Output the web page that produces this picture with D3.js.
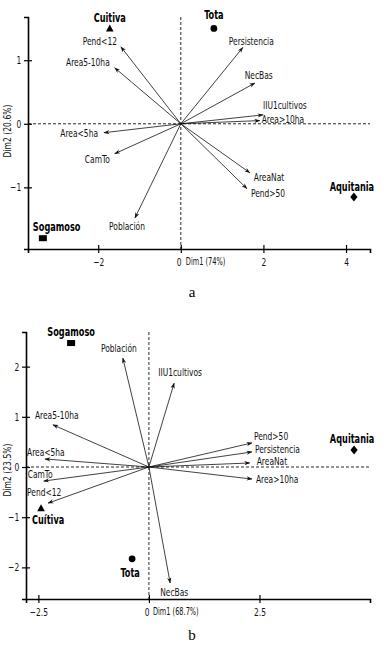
<!DOCTYPE html>
<html>
<head>
<meta charset="utf-8">
<script src="https://cdn.jsdelivr.net/npm/d3@7"></script>
<style>
  body { margin: 0; background: #fff; }
  svg text { font-family: "Liberation Sans Narrow", "DejaVu Sans Condensed", "Roboto", sans-serif; }
</style>
</head>
<body>
<div id="chart"></div>
<script>
// panel a: sites and variables (Dim1 74%, Dim2 20.6%)
const sitesA = ['Cuitiva', 'Tota', 'Aquitania', 'Sogamoso']
const siteXA = [-1.72, 0.80, 4.19, -3.34]
const siteYA = [1.50, 1.50, -1.15, -1.80]
const varsA = ['Pend<12', 'Area5-10ha', 'Area<5ha', 'CamTo', 'Población', 'Persistencia', 'NecBas', 'IIU1cultivos', 'Area>10ha', 'AreaNat', 'Pend>50']
const varXA = [-1.45, -1.60, -1.86, -1.60, -1.11, 1.50, 1.79, 1.99, 1.91, 1.67, 1.60]
const varYA = [1.21, 0.88, -0.14, -0.47, -1.48, 1.20, 0.64, 0.14, 0.05, -0.77, -1.02]
const xTicksA = [-2, 0, 2, 4]
const yTicksA = [-1, 0, 1]

// panel b (Dim1 68.7%, Dim2 23.5%)
const sitesB = ['Sogamoso', 'Cuítiva', 'Tota', 'Aquitania']
const siteXB = [-1.76, -2.44, -0.38, 4.64]
const siteYB = [2.47, -0.82, -1.83, 0.34]
const varsB = ['Población', 'IIU1cultivos', 'Area5-10ha', 'Area<5ha', 'CamTo', 'Pend<12', 'Pend>50', 'Persistencia', 'AreaNat', 'Area>10ha', 'NecBas']
const varXB = [-0.59, 0.57, -2.17, -2.35, -2.38, -2.28, 2.33, 2.33, 2.28, 2.33, 0.48]
const varYB = [2.17, 1.67, 0.84, 0.16, -0.28, -0.72, 0.48, 0.30, 0.08, -0.24, -2.31]
const xTicksB = [-2.5, 0, 2.5]
const yTicksB = [-2, -1, 0, 1, 2]

// layout: label offsets in px [anchor, dx, dy]
const varLabA = [['end', -4, -2], ['end', -5, -2], ['end', -6, 4], ['end', -5, 9], ['middle', -8, 12],
  ['start', -14, -3], ['start', -10, -4], ['start', 0, -6], ['start', 2, 2], ['start', 4, 8], ['start', 4, 8]]
const siteLabA = [['middle', 0, -6], ['middle', 0, -9], ['middle', -2, -6], ['start', -10, -7]]
const varLabB = [['middle', -4, -6], ['middle', 6, -7], ['start', -18, -6], ['start', -18, -3], ['start', -16, -3],
  ['start', -21, -7], ['start', 2, -3], ['start', 3, 1], ['start', 7, 2], ['start', 4, 4], ['start', -10, 13]]
const siteLabB = [['middle', 0, -7], ['start', -9, 16], ['middle', -2, 18], ['middle', -2, -7]]

const symbolOf = {
  Cuitiva: 'tri', 'Cuítiva': 'tri', Tota: 'circle', Aquitania: 'diamond', Sogamoso: 'rect'
}

// reference font is a condensed DIN-like face, squeeze horizontally
const SQ = 0.76
const SQB = 0.7

const svg = d3.select('#chart').append('svg')
  .attr('width', 384)
  .attr('height', 651)

const defs = svg.append('defs')
defs.append('marker')
  .attr('id', 'arr')
  .attr('viewBox', '0 0 10 10')
  .attr('refX', 9).attr('refY', 5)
  .attr('markerWidth', 6).attr('markerHeight', 6)
  .attr('markerUnits', 'userSpaceOnUse')
  .attr('orient', 'auto')
  .append('path')
  .attr('d', 'M0,1.5 L10,5 L0,8.5 L3,5 Z')
  .attr('fill', '#111')

const drawPanel = (p) => {
  const x = d3.scaleLinear().domain(p.xDom).range(p.xRange)
  const y = d3.scaleLinear().domain(p.yDom).range(p.yRange)
  const g = svg.append('g')

  // dashed reference lines
  g.append('line')
    .attr('x1', x(0)).attr('x2', x(0))
    .attr('y1', p.yRange[1]).attr('y2', p.yRange[0])
    .attr('stroke', '#111').attr('stroke-width', 0.9)
    .attr('stroke-dasharray', '3,2')
  g.append('line')
    .attr('x1', p.xRange[0]).attr('x2', p.xRange[1])
    .attr('y1', y(0)).attr('y2', y(0))
    .attr('stroke', '#111').attr('stroke-width', 0.9)
    .attr('stroke-dasharray', '3,2')

  // axes
  const xAxis = g.append('g')
    .attr('transform', `translate(0,${p.yRange[0]})`)
    .call(d3.axisBottom(x).tickValues(p.xTicks).tickSizeOuter(0).tickSize(4).tickPadding(5).tickFormat(d3.format('')))
  const yAxis = g.append('g')
    .attr('transform', `translate(${p.xRange[0]},0)`)
    .call(d3.axisLeft(y).tickValues(p.yTicks).tickSizeOuter(0).tickSize(4).tickPadding(5).tickFormat(d3.format('')))
  xAxis.selectAll('.tick line').attr('y1', -4).attr('stroke-width', 1.2)
  yAxis.selectAll('.tick line').attr('x1', 4).attr('stroke-width', 1.2)
  xAxis.select('.domain').attr('stroke-width', 1.6)
  yAxis.select('.domain').attr('stroke-width', 1.6)
  g.selectAll('.tick text').attr('font-size', 11).attr('fill', '#111')
    .attr('transform', `scale(${SQ},1)`)
    .style('font-family', '"Liberation Sans Narrow", "DejaVu Sans Condensed", sans-serif')
  xAxis.selectAll('.tick text').filter(d => d === 0).attr('dx', -3)

  g.append('text')
    .attr('transform', `translate(${x(0) + p.xLabDx},${p.yRange[0] + 16}) scale(${SQB},1)`)
    .attr('font-size', 10.5).attr('fill', '#111')
    .text(p.xLab)
  g.append('text')
    .attr('transform', `translate(${p.yLabX},${p.yLabY}) rotate(-90) scale(0.85,1)`)
    .attr('text-anchor', 'middle')
    .attr('font-size', 10).attr('fill', '#111')
    .text(p.yLab)

  // variable arrows
  const vars = p.vars.map((name, i) => ({ name, vx: p.varX[i], vy: p.varY[i], lab: p.varLab[i] }))
  g.selectAll('line.arrow')
    .data(vars).enter()
    .append('line')
    .attr('class', 'arrow')
    .attr('x1', x(0)).attr('y1', y(0))
    .attr('x2', d => x(d.vx)).attr('y2', d => y(d.vy))
    .attr('stroke', '#111').attr('stroke-width', 0.8)
    .attr('marker-end', 'url(#arr)')
  g.selectAll('text.var')
    .data(vars).enter()
    .append('text')
    .attr('class', 'var')
    .attr('transform', d => `translate(${x(d.vx) + d.lab[1]},${y(d.vy) + d.lab[2]}) scale(${SQ},1)`)
    .attr('text-anchor', d => d.lab[0])
    .attr('font-size', 11).attr('fill', '#111')
    .text(d => d.name)

  // sites
  const sites = p.sites.map((name, i) => ({ name, sx: p.siteX[i], sy: p.siteY[i], lab: p.siteLab[i] }))
  const sg = g.selectAll('g.site')
    .data(sites).enter()
    .append('g')
    .attr('class', 'site')
    .attr('transform', d => `translate(${x(d.sx)},${y(d.sy)})`)
  sg.each(function (d) {
    const s = d3.select(this)
    const kind = symbolOf[d.name]
    if (kind === 'rect') {
      s.append('rect').attr('x', -4).attr('y', -3).attr('width', 8).attr('height', 6).attr('fill', '#000')
    } else if (kind === 'tri') {
      s.append('path').attr('d', 'M0,-4 L3.8,3 L-3.8,3 Z').attr('fill', '#000')
    } else if (kind === 'diamond') {
      s.append('path').attr('d', 'M0,-4.5 L3.6,0 L0,4.5 L-3.6,0 Z').attr('fill', '#000')
    } else {
      s.append('circle').attr('r', 3.4).attr('fill', '#000')
    }
    s.append('text')
      .attr('transform', `translate(${d.lab[1]},${d.lab[2]}) scale(${SQB},1)`)
      .attr('text-anchor', d.lab[0])
      .attr('font-size', 13).attr('font-weight', 'bold').attr('fill', '#000')
      .text(d.name)
  })

  svg.append('text')
    .attr('x', p.capX).attr('y', p.capY)
    .attr('text-anchor', 'middle')
    .attr('font-size', 15)
    .style('font-family', '"Liberation Serif", "DejaVu Serif", serif')
    .text(p.cap)
}

drawPanel({
  xDom: [-3.7, 4.58], xRange: [28, 370], yDom: [-1.97, 1.68], yRange: [249, 17],
  xTicks: xTicksA, yTicks: yTicksA,
  vars: varsA, varX: varXA, varY: varYA, varLab: varLabA,
  sites: sitesA, siteX: siteXA, siteY: siteYA, siteLab: siteLabA,
  xLab: 'Dim1 (74%)', xLabDx: 5, yLab: 'Dim2 (20.6%)', yLabX: 11, yLabY: 131,
  cap: 'a', capX: 192, capY: 297
})

drawPanel({
  xDom: [-2.78, 5.0], xRange: [26, 370], yDom: [-2.63, 2.69], yRange: [599, 332],
  xTicks: xTicksB, yTicks: yTicksB,
  vars: varsB, varX: varXB, varY: varYB, varLab: varLabB,
  sites: sitesB, siteX: siteXB, siteY: siteYB, siteLab: siteLabB,
  xLab: 'Dim1 (68.7%)', xLabDx: 4, yLab: 'Dim2 (23.5%)', yLabX: 11, yLabY: 470,
  cap: 'b', capX: 192, capY: 640
})
</script>
</body>
</html>
